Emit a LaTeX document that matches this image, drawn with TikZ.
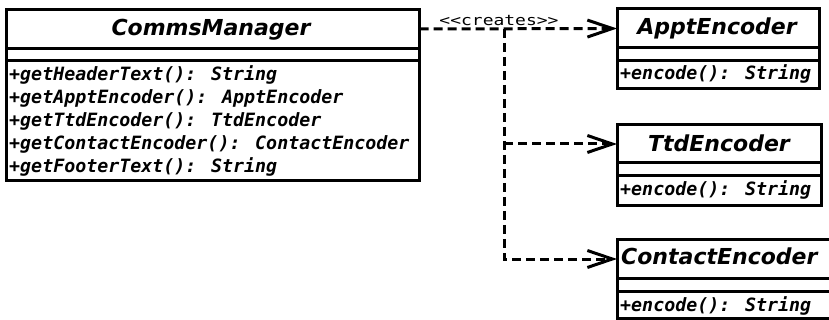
\documentclass[tikz,border=0pt]{standalone}
\usepackage{fontspec}
\usetikzlibrary{arrows.meta}
\newfontfamily\umlsans{DejaVu Sans}
\newfontfamily\umlmono{DejaVu Sans Mono}
\begin{document}
\begin{tikzpicture}[x=1pt,y=-1pt,
  comp/.style={draw, line width=3pt, inner sep=0pt, outer sep=0pt, anchor=north west},
  titletxt/.style={font=\umlsans\bfseries\itshape\fontsize{22}{26}\selectfont, inner sep=0pt, anchor=base},
  methtxt/.style={font=\umlmono\bfseries\itshape\fontsize{18.3}{22}\selectfont, inner sep=0pt, anchor=base west},
  deptip/.style={-{Straight Barb[length=25pt,width=17pt,line width=3pt]}},
  depline/.style={line width=3pt, dash pattern=on 9pt off 5pt}
]
\useasboundingbox (0,0) rectangle (829,320);
\clip (0,0) rectangle (829,320);

% CommsManager
\node[comp, minimum width=413pt, minimum height=39pt] (cmT) at (6.5,9.5) {};
\node[comp, minimum width=413pt, minimum height=12pt] (cmA) at (6.5,48.5) {};
\node[comp, minimum width=413pt, minimum height=120.5pt] (cmM) at (6.5,60.5) {};
\node[titletxt] (cmN) at (211,36) {CommsManager};
\node[methtxt] (m1) at (9,81) {+getHeaderText(): String};
\node[methtxt] (m2) at (9,104) {+getApptEncoder(): ApptEncoder};
\node[methtxt] (m3) at (9,127) {+getTtdEncoder(): TtdEncoder};
\node[methtxt] (m4) at (9,150) {+getContactEncoder(): ContactEncoder};
\node[methtxt] (m5) at (9,173) {+getFooterText(): String};

% ApptEncoder
\node[comp, minimum width=202pt, minimum height=39pt] (apT) at (617,9) {};
\node[comp, minimum width=202pt, minimum height=13pt] (apA) at (617,48) {};
\node[comp, minimum width=202pt, minimum height=28pt] (apM) at (617,61) {};
\node[titletxt] (apN) at (717,35) {ApptEncoder};
\node[methtxt] (apm) at (620,80) {+encode(): String};

% TtdEncoder
\node[comp, minimum width=204pt, minimum height=38pt] (tdT) at (617,125) {};
\node[comp, minimum width=204pt, minimum height=13pt] (tdA) at (617,163) {};
\node[comp, minimum width=204pt, minimum height=30pt] (tdM) at (617,176) {};
\node[titletxt] (tdN) at (719,152) {TtdEncoder};
\node[methtxt] (tdm) at (620,196) {+encode(): String};

% ContactEncoder
\node[comp, minimum width=230pt, minimum height=38pt] (ceT) at (617,240) {};
\node[comp, minimum width=230pt, minimum height=13pt] (ceA) at (617,278) {};
\node[comp, minimum width=230pt, minimum height=27pt] (ceM) at (617,291) {};
\node[titletxt, anchor=base west] (ceN) at (621,265) {ContactEncoder};
\node[methtxt] (cem) at (620,311) {+encode(): String};

% dependencies
\coordinate (j) at (504,29);
\draw[depline, deptip] (cmT.east) -- (apT.west);
\node[font=\umlmono\fontsize{14.5}{17}\selectfont, inner sep=0pt, anchor=base] (lbl) at (499,25.5) {\scalebox{1.24}[1]{<{}<creates>{}>}};
\draw[depline, deptip] (j) -- (j |- ceT.west) -- (ceT.west);
\draw[depline, deptip] (j |- tdT.west) -- (tdT.west);
\end{tikzpicture}
\end{document}
